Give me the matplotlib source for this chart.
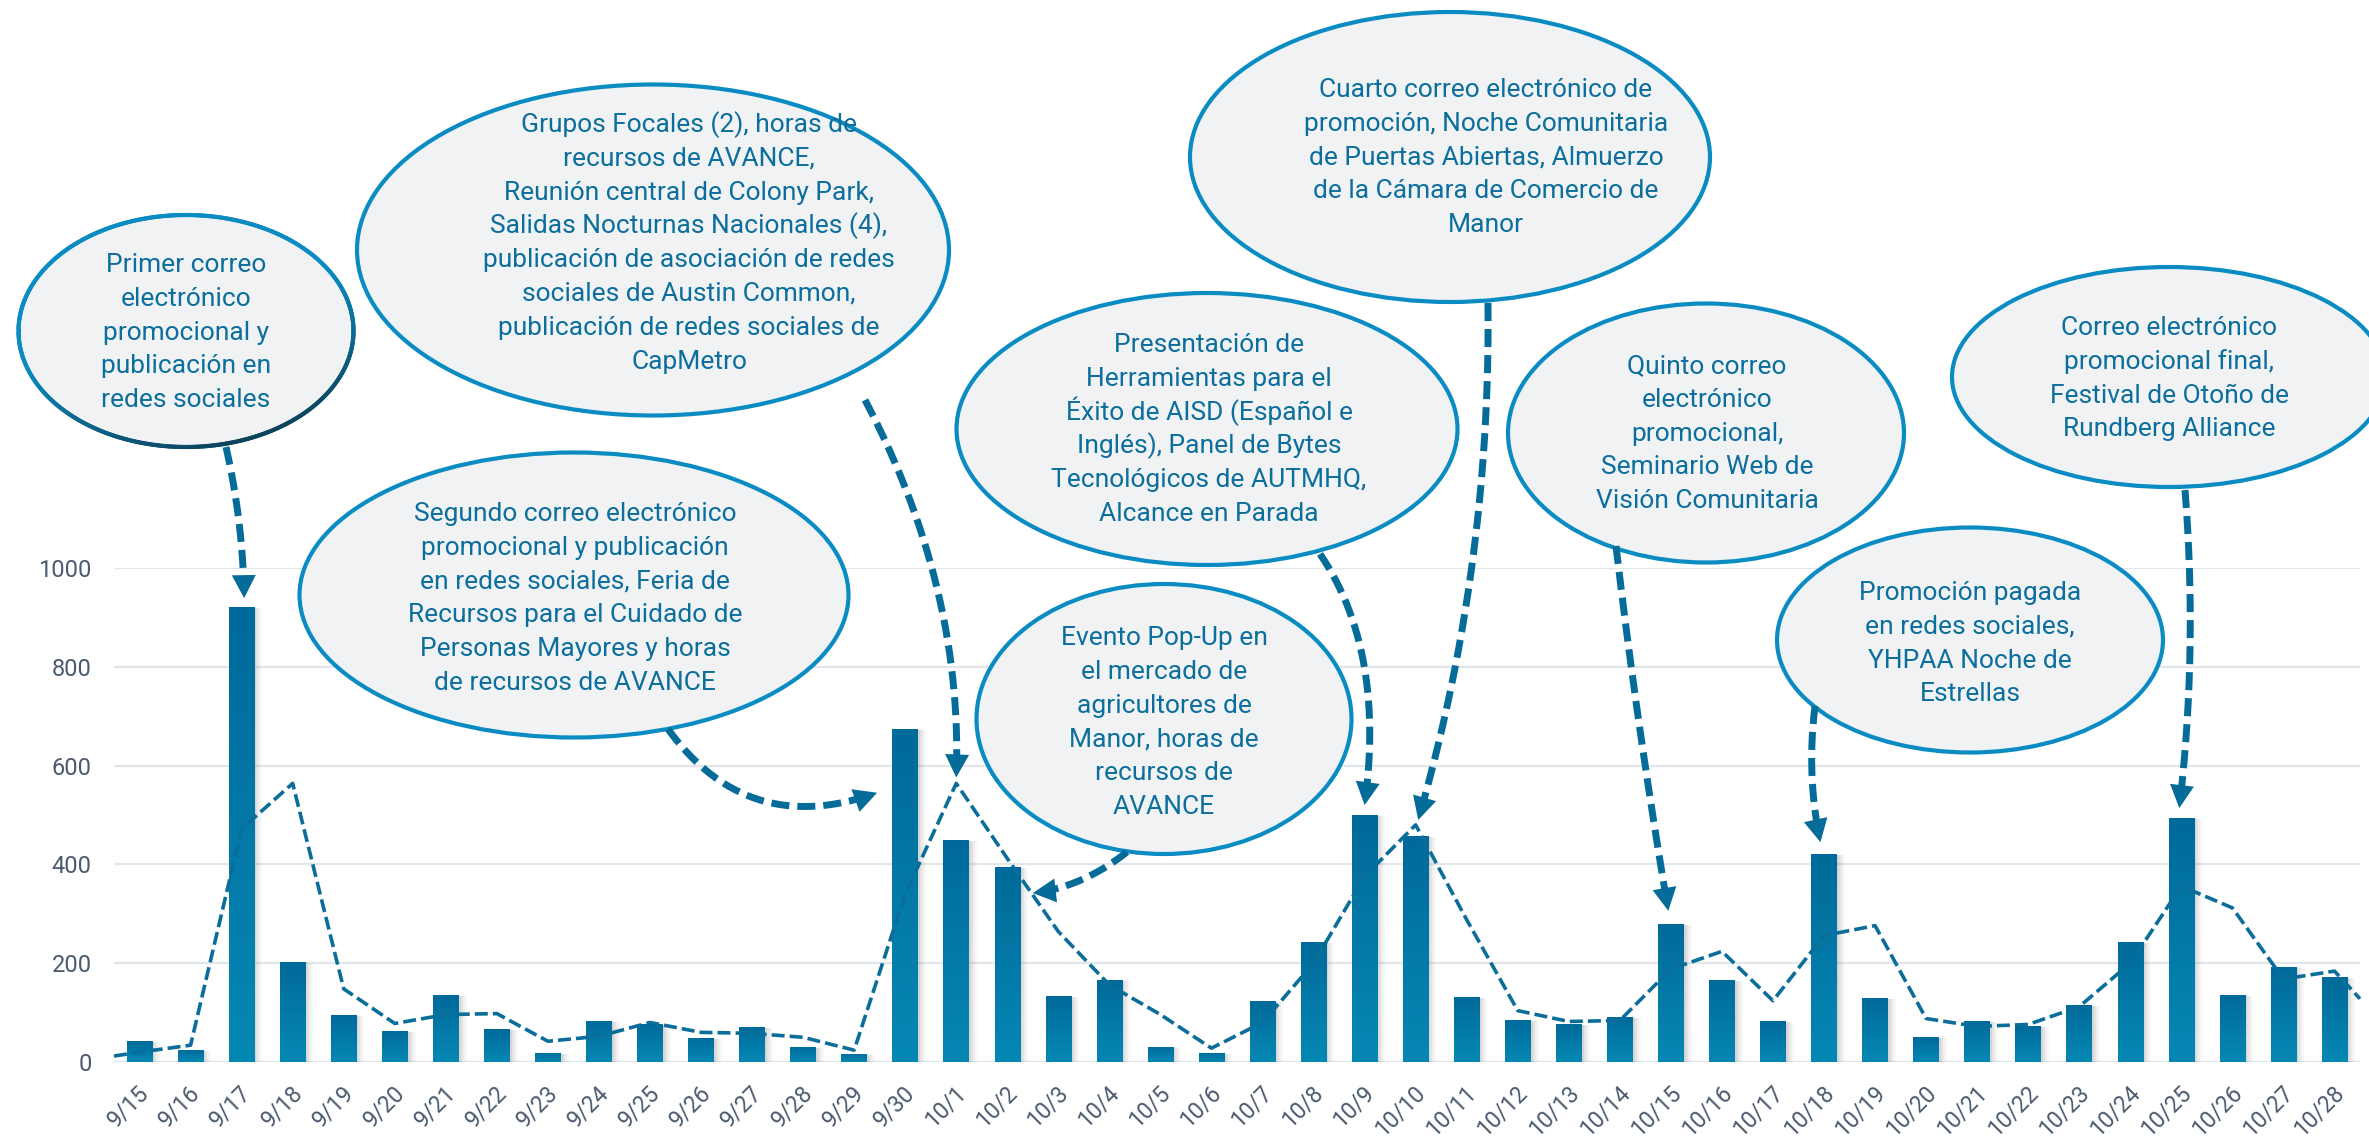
import numpy as np
import matplotlib
matplotlib.use("Agg")
import matplotlib.pyplot as plt
import matplotlib.transforms as mtransforms
from matplotlib.patches import Ellipse, Polygon
from matplotlib.collections import LineCollection
from matplotlib.colors import LinearSegmentedColormap

plt.rcParams['font.family'] = ['Roboto', 'DejaVu Sans']

# --- data -----------------------------------------------------------------
dates = ([f"9/{d}" for d in range(15, 31)] + [f"10/{d}" for d in range(1, 29)])
visits = [43, 25, 922, 202, 96, 63, 135, 66, 19, 84, 76, 48, 71, 31, 17, 674,
          450, 394, 134, 166, 31, 19, 124, 243, 499, 458, 132, 86, 76, 92, 279,
          166, 82, 422, 130, 50, 84, 72, 116, 243, 493, 136, 193, 172]
trend = [20, 34, 472, 564, 148, 78, 96, 98, 42, 52, 80, 60, 58, 50, 24, 340,
         564, 412, 264, 156, 96, 28, 80, 200, 376, 480, 288, 104, 82, 84, 188,
         224, 124, 256, 276, 88, 72, 76, 112, 200, 356, 312, 168, 184]
trend_start, trend_end = 12, 128
yticks = [0, 200, 400, 600, 800, 1000]

notes = [
    ["Primer correo", "electrónico", "promocional y", "publicación en", "redes sociales"],
    ["Grupos Focales (2), horas de", "recursos de AVANCE,", "Reunión central de Colony Park,",
     "Salidas Nocturnas Nacionales (4),", "publicación de asociación de redes",
     "sociales de Austin Common,", "publicación de redes sociales de", "CapMetro"],
    ["Segundo correo electrónico", "promocional y publicación", "en redes sociales, Feria de",
     "Recursos para el Cuidado de", "Personas Mayores y horas", "de recursos de AVANCE"],
    ["Evento Pop-Up en", "el mercado de", "agricultores de", "Manor, horas de",
     "recursos de", "AVANCE"],
    ["Presentación de", "Herramientas para el", "Éxito de AISD (Español e",
     "Inglés), Panel de Bytes", "Tecnológicos de AUTMHQ,", "Alcance en Parada"],
    ["Cuarto correo electrónico de", "promoción, Noche Comunitaria",
     "de Puertas Abiertas, Almuerzo", "de la Cámara de Comercio de", "Manor"],
    ["Quinto correo", "electrónico", "promocional,", "Seminario Web de", "Visión Comunitaria"],
    ["Promoción pagada", "en redes sociales,", "YHPAA Noche de", "Estrellas"],
    ["Correo electrónico", "promocional final,", "Festival de Otoño de", "Rundberg Alliance"],
]
# arrow targets (category index, value)
note_targets = [(2.05, 939), (16, 576), (14.45, 545), (17.5, 342), (24.0, 520),
                (25.05, 490), (29.95, 306), (32.93, 445), (39.96, 514)]

# --- layout (pixels) --------------------------------------------------------
W, H = 2369, 1142
ell = [  # cx, cy, w, h, text_cx, first baseline
    (186, 331, 335, 232, 186, 272),
    (653, 250, 592, 331, 689, 132),
    (574, 595, 549, 285, 575, 521),
    (1164, 719, 375, 270, 1164, 645),
    (1207, 429, 501, 272, 1209, 352),
    (1450, 157, 520, 290, 1486, 97),
    (1706, 433, 396, 259, 1707, 373),
    (1970, 640, 386, 225, 1970, 600),
    (2169, 377, 434, 220, 2169, 335),
]
arrow_geo = [  # start, mid of curve
    ((226, 447), (239, 522)),
    ((865, 400), (937, 588)),
    ((668, 729), (760, 800)),
    ((1127, 852), (1081, 880)),
    ((1320, 554), (1364, 665)),
    ((1488, 303), (1472, 565)),
    ((1616, 546), (1640, 730)),
    ((1815, 706), (1812, 775)),
    ((2185, 490), (2190, 650)),
]

BAR_TOP, BAR_BOT = "#006a9a", "#0688b4"
LINE = "#0b6d9a"
ARROW = "#056b99"
EDGE = "#0a8cc3"
FILL = "#f0f2f4"
TXT = "#0b6e9c"
AXTXT = "#4b5a6e"
GRID = "#e2e6ec"

fig = plt.figure(figsize=(W / 100, H / 100), dpi=100)
ax = fig.add_axes([114 / W, (H - 1062) / H, 2246 / W, 494 / H])

x = np.arange(len(dates))
for off, a in [(2, 0.10), (4, 0.08), (6, 0.06), (8, 0.04)]:
    tr = mtransforms.offset_copy(ax.transData, fig=fig, x=off, y=-1, units='dots')
    ax.bar(x, visits, width=0.5, color="#606060", alpha=a, transform=tr, zorder=2)

bars = ax.bar(x, visits, width=0.5, color=BAR_TOP, zorder=3)
cmap = LinearSegmentedColormap.from_list("bar", [BAR_BOT, BAR_TOP])
grad = np.linspace(0, 1, 256).reshape(-1, 1)
for b in bars:
    im = ax.imshow(grad, extent=[b.get_x(), b.get_x() + b.get_width(), 0, b.get_height()],
                   origin='lower', aspect='auto', cmap=cmap, zorder=3.1)
    im.set_clip_path(b)

tx = np.concatenate([[-0.5], x, [len(dates) - 0.5]])
ty = [trend_start] + trend + [trend_end]
ax.plot(tx, ty, color=LINE, lw=2.6, dashes=(3.6, 1.4), zorder=4, clip_on=False)

ax.set_xlim(-0.5, len(dates) - 0.5)
ax.set_ylim(0, 1000)
ax.set_yticks(yticks)
ax.set_xticks(x)
ax.set_xticklabels(dates)
ax.grid(axis='y', color=GRID, lw=1.6, zorder=0)
ax.set_axisbelow(True)
for s in ax.spines.values():
    s.set_visible(False)
ax.tick_params(axis='y', length=0, pad=16, labelsize=17, labelcolor=AXTXT)
ax.tick_params(axis='x', length=0, pad=14, labelsize=16.5, labelcolor=AXTXT)
shift = mtransforms.ScaledTranslation(-2 / 100, 0, fig.dpi_scale_trans)
for lab in ax.get_xticklabels():
    lab.set_rotation(45)
    lab.set_ha('right')
    lab.set_rotation_mode('anchor')
    lab.set_transform(lab.get_transform() + shift)

# --- annotation overlay in pixel coordinates --------------------------------
ov = fig.add_axes([0, 0, 1, 1], zorder=10)
ov.set_xlim(0, W)
ov.set_ylim(H, 0)
ov.axis('off')
ov.patch.set_visible(False)


def to_px(cat, val):
    d = ax.transData.transform((cat, val))
    return ov.transData.inverted().transform(d)


for i, ((cx, cy, w, h, tcx, base), lines) in enumerate(zip(ell, notes)):
    if i == 0:
        ov.add_patch(Ellipse((cx, cy), w, h, fc=FILL, ec='none', zorder=2))
        th = np.linspace(0, 2 * np.pi, 600)
        px = cx + w / 2 * np.cos(th)
        py = cy + h / 2 * np.sin(th)
        pts = np.column_stack([px, py]).reshape(-1, 1, 2)
        segs = np.concatenate([pts[:-1], pts[1:]], axis=1)
        t = 0.5 + 0.5 * (0.8 * np.sin(th) + 0.35 * np.cos(th))
        t = np.clip((t - 0.45) / 0.55, 0, 1)
        ecmap = LinearSegmentedColormap.from_list("edge", [EDGE, "#0c3a50"])
        lc = LineCollection(segs, colors=ecmap(t[:-1]), linewidths=3, zorder=3,
                            capstyle='round')
        ov.add_collection(lc)
    else:
        ov.add_patch(Ellipse((cx, cy), w, h, fc=FILL, ec=EDGE, lw=3, zorder=2))
    for k, line in enumerate(lines):
        ov.text(tcx, base + k * 33.8, line, ha='center', va='baseline',
                fontsize=19, color=TXT, zorder=4)

HEAD_L, HEAD_W = 23, 24
for (S, M), (tc, tv) in zip(arrow_geo, note_targets):
    S = np.array(S, float)
    M = np.array(M, float)
    T = to_px(tc, tv)
    C = (4 * M - S - T) / 2
    tt = np.linspace(0, 1, 300)[:, None]
    curve = (1 - tt) ** 2 * S + 2 * tt * (1 - tt) * C + tt ** 2 * T
    u = (T - C) / np.linalg.norm(T - C)
    keep = np.linalg.norm(curve - T, axis=1) > HEAD_L * 0.85
    ov.plot(curve[keep, 0], curve[keep, 1], color=ARROW, lw=5, dashes=(2.6, 1.15),
            solid_capstyle='butt', dash_capstyle='butt', zorder=5)
    n = np.array([-u[1], u[0]])
    B = T - u * HEAD_L
    ov.add_patch(Polygon([T, B + n * HEAD_W / 2, B - n * HEAD_W / 2],
                         closed=True, fc=ARROW, ec='none', zorder=6))

fig.savefig("out.png", dpi=100)
